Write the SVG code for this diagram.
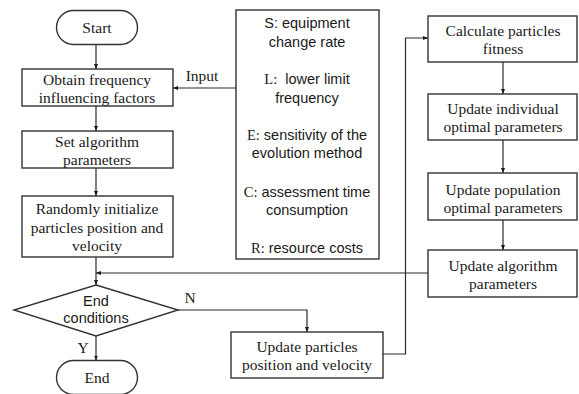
<svg xmlns="http://www.w3.org/2000/svg" width="579" height="394" viewBox="0 0 579 394">
  <defs>
    <marker id="arrow" viewBox="0 0 10 10" refX="10" refY="5" markerWidth="5" markerHeight="5" orient="auto" markerUnits="userSpaceOnUse">
      <path d="M0,1 L10,5 L0,9 Z" fill="#1a1a1a"/>
    </marker>
  </defs>
  <style>
    .box { fill: #ffffff; stroke: #333333; stroke-width: 1.4; }
    .edge { fill: none; stroke: #2a2a2a; stroke-width: 1.2; marker-end: url(#arrow); }
    .serif { font-family: "Liberation Serif", "Times New Roman", serif; font-size: 15.5px; fill: #1a1a1a; text-anchor: middle; }
    .sans { font-family: "Liberation Sans", Arial, sans-serif; font-size: 14.5px; fill: #1a1a1a; text-anchor: middle; }
    .lead { font-family: "Liberation Serif", "Times New Roman", serif; }
  </style>
  <rect width="579" height="394" fill="#ffffff"/>

  <!-- main column -->
  <g id="start">
    <rect class="box" x="56.5" y="10.5" width="81" height="34" rx="17" ry="17"/>
    <text class="serif" x="97" y="33">Start</text>
  </g>
  <g id="obtain">
    <rect class="box" x="22" y="69" width="151" height="37"/>
    <text class="serif" x="97" y="85">Obtain frequency</text>
    <text class="serif" x="97" y="103">influencing factors</text>
  </g>
  <g id="set-params">
    <rect class="box" x="22" y="131" width="151" height="37"/>
    <text class="serif" x="97" y="147">Set algorithm</text>
    <text class="serif" x="97" y="165">parameters</text>
  </g>
  <g id="init">
    <rect class="box" x="22" y="196" width="151" height="61"/>
    <text class="serif" x="97" y="214">Randomly initialize</text>
    <text class="serif" x="97" y="232.5">particles position and</text>
    <text class="serif" x="97" y="251">velocity</text>
  </g>
  <g id="end-cond">
    <polygon class="box" points="96,285 178,310 96,336 14,310"/>
    <text class="sans" x="96" y="306">End</text>
    <text class="sans" x="96" y="323">conditions</text>
  </g>
  <g id="end">
    <rect class="box" x="56.5" y="360.5" width="81" height="34" rx="17" ry="17"/>
    <text class="serif" x="97" y="383">End</text>
  </g>

  <!-- input factors -->
  <g id="factors">
    <rect class="box" x="236" y="10" width="143" height="249"/>
    <text class="sans" x="307" y="28">S: equipment</text>
    <text class="sans" x="307" y="47">change rate</text>
    <text class="sans" x="307" y="84"><tspan class="lead">L:</tspan>&#160; lower limit</text>
    <text class="sans" x="307" y="103">frequency</text>
    <text class="sans" x="307" y="140"><tspan class="lead">E:</tspan> sensitivity of the</text>
    <text class="sans" x="307" y="158">evolution method</text>
    <text class="sans" x="307" y="197"><tspan class="lead">C:</tspan> assessment time</text>
    <text class="sans" x="307" y="215">consumption</text>
    <text class="sans" x="307" y="253"><tspan class="lead">R:</tspan> resource costs</text>
  </g>

  <!-- update loop -->
  <g id="update-pos">
    <rect class="box" x="231" y="332" width="152" height="46"/>
    <text class="serif" x="307" y="352">Update particles</text>
    <text class="serif" x="307" y="370">position and velocity</text>
  </g>
  <g id="fitness">
    <rect class="box" x="428" y="16" width="149" height="46"/>
    <text class="serif" x="503" y="36">Calculate particles</text>
    <text class="serif" x="503" y="54">fitness</text>
  </g>
  <g id="individual">
    <rect class="box" x="428" y="94" width="149" height="46"/>
    <text class="serif" x="503" y="114">Update individual</text>
    <text class="serif" x="503" y="132">optimal parameters</text>
  </g>
  <g id="population">
    <rect class="box" x="428" y="173" width="149" height="47"/>
    <text class="serif" x="503" y="195">Update population</text>
    <text class="serif" x="503" y="213">optimal parameters</text>
  </g>
  <g id="update-algo">
    <rect class="box" x="428" y="250" width="149" height="47"/>
    <text class="serif" x="503" y="271">Update algorithm</text>
    <text class="serif" x="503" y="289">parameters</text>
  </g>

  <!-- connectors -->
  <g id="connectors">
    <path class="edge" d="M96,44.5 V69"/>
    <path class="edge" d="M96,106 V131"/>
    <path class="edge" d="M96,168 V196"/>
    <path class="edge" d="M96,257 V285"/>
    <path class="edge" d="M236,88 H173"/>
    <path class="edge" d="M428,273 H96"/>
    <path class="edge" d="M178,310 H307 V332"/>
    <path class="edge" d="M383,354 H405.5 V38 H428"/>
    <path class="edge" d="M503,62 V94"/>
    <path class="edge" d="M503,140 V173"/>
    <path class="edge" d="M503,220 V250"/>
    <path class="edge" d="M96,336 V360.5"/>
    <text class="serif" x="202" y="81">Input</text>
    <text class="serif" x="190" y="303">N</text>
    <text class="serif" x="83" y="353">Y</text>
  </g>
</svg>
